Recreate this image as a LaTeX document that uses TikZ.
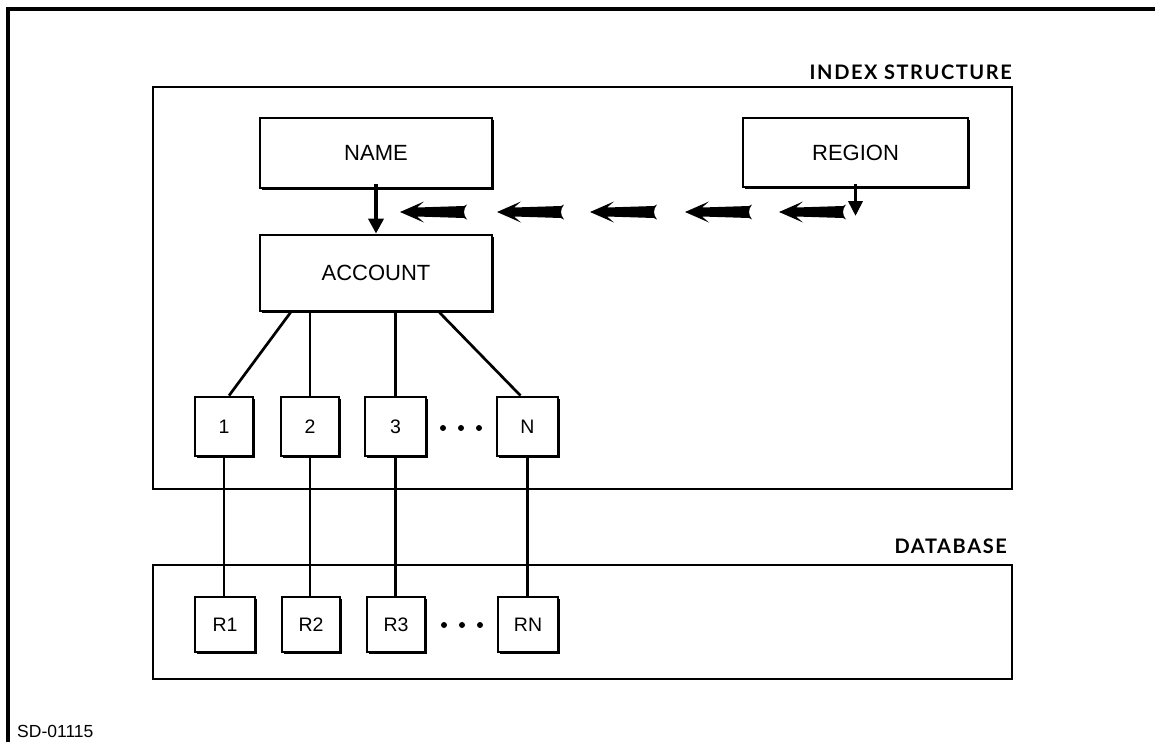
\documentclass[tikz,border=0pt]{standalone}
\usepackage{fontspec}
\setmainfont{Liberation Sans}
\newfontfamily\headfont{Lato}[LetterSpace=8]
\usetikzlibrary{arrows.meta,shadows}

\tikzset{
  keybox/.style={draw, line width=2.8pt, fill=white, inner sep=0pt,
    font=\fontsize{22}{22}\selectfont,
    drop shadow={shadow xshift=2.4pt, shadow yshift=-2.4pt, opacity=1, fill=black}},
  smallbox/.style={keybox, font=\fontsize{19.5}{19.5}\selectfont},
  region/.style={draw, line width=2.9pt},
  heading/.style={font=\headfont\bfseries\fontsize{20}{20}\selectfont, inner sep=0pt, anchor=base east},
  link/.style={line width=2.7pt},
  downarrow/.style={line width=3.8pt, -{Triangle[length=15pt,width=15pt]}},
  fatarrow/.pic={
    \fill (0,0) -- (24,-10.5) -- (17,-4.5) -- (64,-6) -- (67,-7.5)
      .. controls (63,-2.5) and (63,2.5) .. (67,7.5) -- (64,6)
      -- (17,4.5) -- (24,10.5) -- cycle;
  },
  dot/.style={circle, fill, inner sep=0pt, minimum size=6pt}
}

\begin{document}
\begin{tikzpicture}[x=1pt, y=-1pt]
\useasboundingbox (0,0) rectangle (1155,742);

% page frame
\draw[line width=3.2pt] (8,742) -- (8,9) -- (1155,9);

% index structure region
\draw[region] (153,87) rectangle (1012,489);
\node[heading] (hidx) at (1012,79) {INDEX STRUCTURE};

% database region
\draw[region] (153,565) rectangle (1012,679);
\node[heading] (hdb) at (1007,553) {DATABASE};

% index keys
\node[keybox, minimum width=232pt, minimum height=70pt] (name) at (376,153) {NAME};
\node[keybox, minimum width=225pt, minimum height=69pt] (region) at (855.5,152.5) {REGION};
\node[keybox, minimum width=232pt, minimum height=76pt] (account) at (376,273) {ACCOUNT};

% index entries
\node[smallbox, minimum width=58pt, minimum height=59pt] (b1) at (224,426.5) {1};
\node[smallbox, minimum width=58pt, minimum height=59pt] (b2) at (310,426.5) {2};
\node[smallbox, minimum width=61pt, minimum height=59pt] (b3) at (395.5,426.5) {3};
\node[smallbox, minimum width=61pt, minimum height=59pt] (bN) at (527.5,426.5) {N};
\node[dot] (d1) at (443,428) {};
\node[dot] (d2) at (461,428) {};
\node[dot] (d3) at (479,428) {};

% records
\node[smallbox, minimum width=60pt, minimum height=55pt] (r1) at (225,624.5) {R1};
\node[smallbox, minimum width=58pt, minimum height=55pt] (r2) at (311,624.5) {R2};
\node[smallbox, minimum width=58pt, minimum height=55pt] (r3) at (396,624.5) {R3};
\node[smallbox, minimum width=60pt, minimum height=55pt] (rN) at (528,624.5) {RN};
\node[dot] (e1) at (444,625) {};
\node[dot] (e2) at (462,625) {};
\node[dot] (e3) at (480,625) {};

% tree links from ACCOUNT to entries
\draw[link] ([xshift=32pt]account.south west) -- ([xshift=5pt]b1.north);
\draw[link] (account.south -| b2.north) -- (b2.north);
\draw[link] (account.south -| b3.north) -- (b3.north);
\draw[link] ([xshift=-54pt]account.south east) -- ([xshift=-7pt]bN.north);

% entries point to records
\draw[link] (b1.south) -- (b1.south |- r1.north);
\draw[link] (b2.south) -- (b2.south |- r2.north);
\draw[link] (b3.south) -- (b3.south |- r3.north);
\draw[link] (bN.south) -- (bN.south |- rN.north);

% NAME leads to ACCOUNT
\draw[downarrow] ([yshift=5pt]name.south) -- (account.north);

% REGION leads back to ACCOUNT through a chain of arrows
\coordinate (rdrop) at (855.5,216);
\draw[line width=3.6pt, -{Triangle[length=15pt,width=14pt]}] ([yshift=4pt]region.south) -- (rdrop);
\coordinate (a1) at (400,212);
\coordinate (a2) at (497,212);
\coordinate (a3) at (590,212);
\coordinate (a4) at (685,212);
\coordinate (a5) at (779,212);
\foreach \c in {a1,a2,a3,a4,a5} \pic at (\c) {fatarrow};

% drawing number
\node[font=\fontsize{17.5}{17.5}\selectfont, anchor=base west, inner sep=0pt] (sd) at (17,737) {SD-01115};
\end{tikzpicture}
\end{document}
